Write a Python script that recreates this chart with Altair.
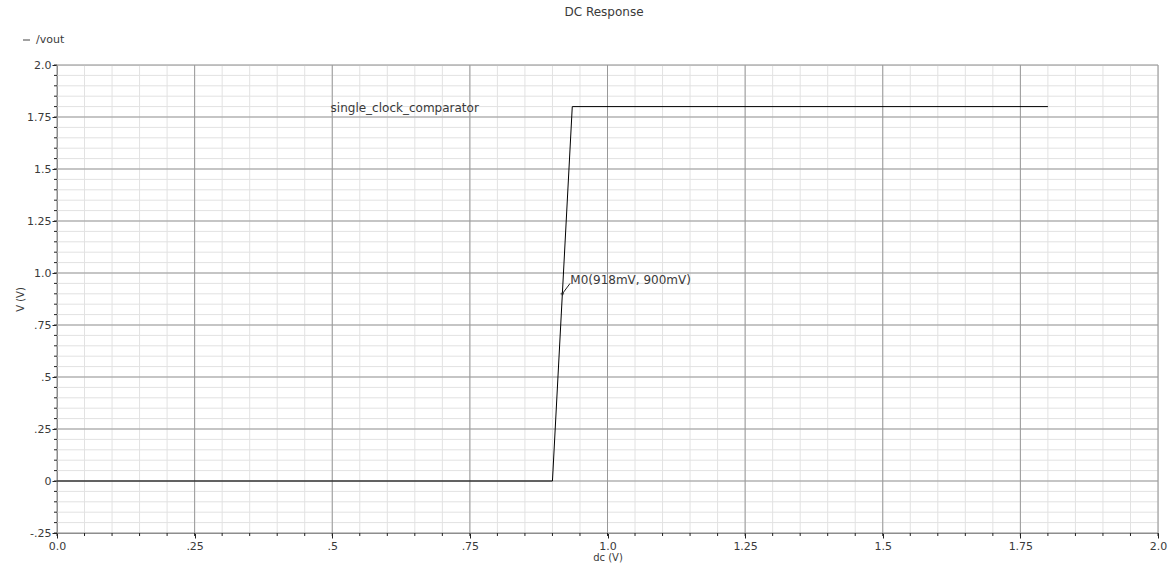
import altair as alt
import pandas as pd

# DC sweep of /vout (single_clock_comparator)
sweep_v = [0.0, 0.9, 0.936, 1.8]
vout_v = [0.0, 0.0, 1.8, 1.8]

# axis tick values and their printed labels
x_major = [0.0, 0.25, 0.5, 0.75, 1.0, 1.25, 1.5, 1.75, 2.0]
x_labels = ["0.0", ".25", ".5", ".75", "1.0", "1.25", "1.5", "1.75", "2.0"]
y_major = [-0.25, 0.0, 0.25, 0.5, 0.75, 1.0, 1.25, 1.5, 1.75, 2.0]
y_labels = ["-.25", "0", ".25", ".5", ".75", "1.0", "1.25", "1.5", "1.75", "2.0"]
x_minor = [round(i * 0.05, 2) for i in range(41)]
y_minor = [round(-0.25 + i * 0.05, 2) for i in range(46)]

# marker M0 and the trace name label
marker_x = [0.918]
marker_y = [0.9]
marker_text = ["M0(918mV, 900mV)"]
trace_name = ["single_clock_comparator"]
trace_name_x = [0.497]
trace_name_y = [1.8]

FONT = "DejaVu Sans"
TXT = "#3a3a3a"
W, H = 1101, 468

xs = alt.Scale(domain=[0, 2], nice=False, zero=False)
ys = alt.Scale(domain=[-0.25, 2.0], nice=False, zero=False)

x_label_expr = "[" + ",".join(f"'{s}'" for s in x_labels) + "][round(datum.value*4)]"
y_label_expr = "[" + ",".join(f"'{s}'" for s in y_labels) + "][round(datum.value*4)+1]"

# one axis definition per direction, shared by every layer so they merge
x_axis = alt.Axis(values=x_major, labelExpr=x_label_expr, title="dc (V)",
                  grid=False, tickSize=5, tickColor="#222222",
                  domainColor="#222222", labelFont=FONT, labelFontSize=11,
                  labelColor=TXT, labelPadding=2, titleFont=FONT,
                  titleFontSize=10, titleFontWeight="normal", titleColor=TXT,
                  titlePadding=1, labelFlush=False)
y_axis = alt.Axis(values=y_major, labelExpr=y_label_expr, title="V (V)",
                  grid=False, tickSize=5, tickColor="#222222",
                  domainColor="#222222", labelFont=FONT, labelFontSize=11,
                  labelColor=TXT, labelPadding=1, titleFont=FONT,
                  titleFontSize=10, titleFontWeight="normal", titleColor=TXT,
                  titlePadding=1, labelFlush=False)


def X(field):
    return alt.X(field, type="quantitative", scale=xs, axis=x_axis)


def Y(field):
    return alt.Y(field, type="quantitative", scale=ys, axis=y_axis)


line_df = pd.DataFrame({"dc": sweep_v, "vout": vout_v})
xmin_df = pd.DataFrame({"v": x_minor})
ymin_df = pd.DataFrame({"v": y_minor})
xmaj_df = pd.DataFrame({"v": x_major})
ymaj_df = pd.DataFrame({"v": y_major})

# minor grid
gx_minor = alt.Chart(xmin_df).mark_rule(color="#e2e2e2", strokeWidth=1).encode(x=X("v"))
gy_minor = alt.Chart(ymin_df).mark_rule(color="#e2e2e2", strokeWidth=1).encode(y=Y("v"))
# major grid
gx_major = alt.Chart(xmaj_df).mark_rule(color="#999999", strokeWidth=1).encode(x=X("v"))
gy_major = alt.Chart(ymaj_df).mark_rule(color="#999999", strokeWidth=1).encode(y=Y("v"))

# minor tick marks outside the frame
tx_minor = alt.Chart(xmin_df).mark_rule(color="#222222").encode(
    x=X("v"), y=alt.value(H), y2=alt.value(H + 3))
ty_minor = alt.Chart(ymin_df).mark_rule(color="#222222").encode(
    y=Y("v"), x=alt.value(-3), x2=alt.value(0))

trace = alt.Chart(line_df).mark_line(color="black", strokeWidth=1).encode(
    x=X("dc"), y=Y("vout"))

name_df = pd.DataFrame({"x": trace_name_x, "y": trace_name_y, "t": trace_name})
name_lbl = alt.Chart(name_df).mark_text(
    align="left", baseline="middle", dy=1, font=FONT, fontSize=12, color=TXT
).encode(x=X("x"), y=Y("y"), text="t:N")

mk_df = pd.DataFrame({"x": marker_x, "y": marker_y, "t": marker_text})
mk_point = alt.Chart(mk_df).mark_point(
    shape="cross", size=12, filled=True, color="#222222"
).encode(x=X("x"), y=Y("y"))
mk_lead = alt.Chart(mk_df).transform_calculate(
    x2="datum.x + 0.014", y2="datum.y + 0.05"
).mark_rule(color="#222222").encode(
    x=X("x"), y=Y("y"), x2=alt.X2("x2:Q"), y2=alt.Y2("y2:Q"))
mk_text = alt.Chart(mk_df).mark_text(
    align="left", baseline="middle", dx=8, dy=-14, font=FONT, fontSize=12, color=TXT
).encode(x=X("x"), y=Y("y"), text="t:N")

title = alt.Chart(pd.DataFrame({"t": ["DC Response"]})).mark_text(
    align="center", baseline="middle", font=FONT, fontSize=12, color=TXT
).encode(x=alt.value(547), y=alt.value(-53), text="t:N")

# legend entry: short line swatch followed by the signal name
legend_swatch = alt.Chart(pd.DataFrame({"t": ["/vout"]})).mark_rule(
    color="#444444", strokeWidth=1
).encode(x=alt.value(-34), x2=alt.value(-27), y=alt.value(-25))
legend = alt.Chart(pd.DataFrame({"t": ["/vout"]})).mark_text(
    align="left", baseline="middle", font=FONT, fontSize=11, color=TXT
).encode(x=alt.value(-21), y=alt.value(-25), text="t:N")

chart = alt.layer(
    gx_minor, gy_minor, gx_major, gy_major, tx_minor, ty_minor,
    trace, name_lbl, mk_lead, mk_point, mk_text, title, legend_swatch, legend
).properties(
    width=W, height=H,
    autosize=alt.AutoSizeParams(type="none"),
    padding={"left": 57, "top": 65, "right": 16, "bottom": 40},
).configure_view(stroke="#222222", strokeWidth=1).configure(background="white")

chart.save("out.html", embed_options={"renderer": "svg", "actions": False})
